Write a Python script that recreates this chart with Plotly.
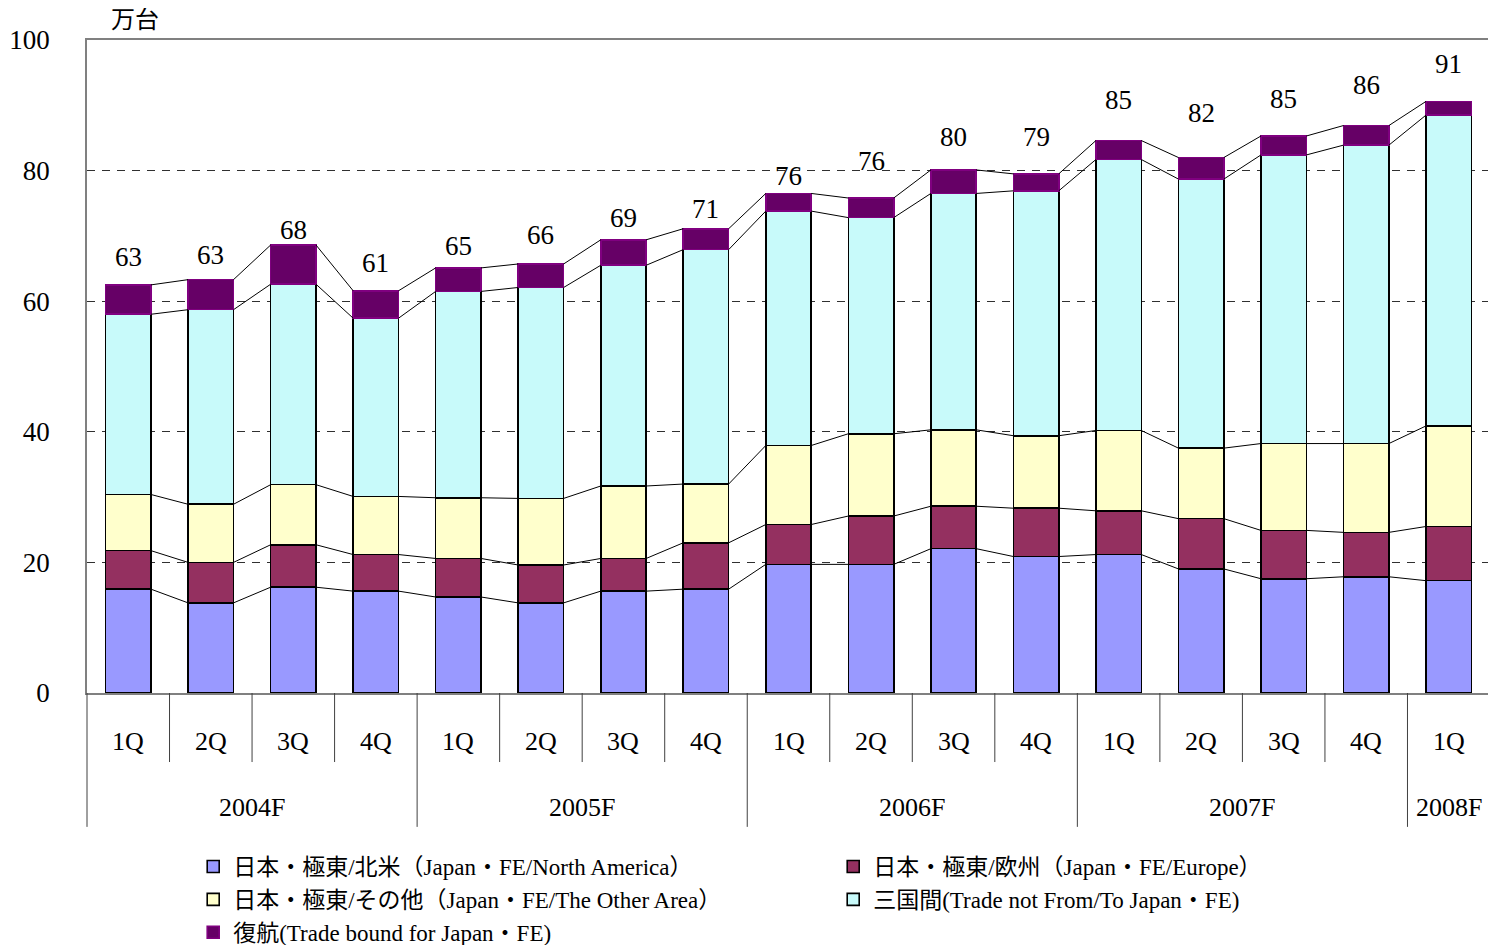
import plotly.graph_objects as go

# ---------------- data ----------------
quarters = ["1Q", "2Q", "3Q", "4Q", "1Q", "2Q", "3Q", "4Q", "1Q", "2Q", "3Q", "4Q",
            "1Q", "2Q", "3Q", "4Q", "1Q"]
years = ["2004F", "2005F", "2006F", "2007F", "2008F"]
year_counts = [4, 4, 4, 4, 1]

north_america = [15.9, 13.8, 16.2, 15.6, 14.7, 13.8, 15.6, 15.9, 19.7, 19.7, 22.1, 20.9,
                 21.2, 19.0, 17.5, 17.8, 17.2]
europe = [5.9, 6.2, 6.5, 5.6, 5.9, 5.8, 5.0, 7.1, 6.1, 7.4, 6.5, 7.4, 6.7, 7.7, 7.4, 6.8, 8.3]
other_area = [8.6, 8.9, 9.2, 8.9, 9.3, 10.2, 11.1, 9.0, 12.1, 12.6, 11.7, 11.1, 12.3, 10.8,
              13.3, 13.6, 15.4]
cross_trade = [27.6, 29.8, 30.7, 27.3, 31.6, 32.3, 33.8, 35.9, 35.9, 33.1, 36.2, 37.5, 41.5,
               41.2, 44.2, 45.7, 47.6]
return_trade = [4.5, 4.6, 6.0, 4.2, 3.6, 3.6, 3.9, 3.2, 2.7, 3.0, 3.6, 2.6, 2.9, 3.3, 2.9,
                3.0, 2.1]
total_labels = ["63", "63", "68", "61", "65", "66", "69", "71", "76", "76", "80", "79",
                "85", "82", "85", "86", "91"]

series_names = [
    "日本・極東/北米（Japan・FE/North America）",
    "日本・極東/欧州（Japan・FE/Europe）",
    "日本・極東/その他（Japan・FE/The Other Area）",
    "三国間(Trade not From/To Japan・FE)",
    "復航(Trade bound for Japan・FE)",
]
unit_label = "万台"

# ---------------- styles ----------------
fill_colors = ["#9999FF", "#943060", "#FFFFCC", "#C8FAFA", "#660066"]
line_colors = ["#000000", "#000000", "#000000", "#000000", "#800080"]
label_lift = [28, 25, 15, 28, 22, 29, 22, 20, 17, 37, 33, 37, 41, 45, 37, 41, 37]
BAR_W = 0.55
SERIF = "Liberation Serif, Times New Roman, Noto Sans CJK JP, serif"

n = len(quarters)
xs = list(range(n))
series = [north_america, europe, other_area, cross_trade, return_trade]

fig = go.Figure()

# stacked bars
for name, vals, fc, lc in zip(series_names, series, fill_colors, line_colors):
    fig.add_trace(go.Bar(
        x=xs, y=vals, name=name, width=BAR_W,
        marker=dict(color=fc, line=dict(color=lc, width=1.6)),
    ))

# series lines connecting segment tops between adjacent bars
cum = []
running = [0.0] * n
for vals in series:
    running = [r + v for r, v in zip(running, vals)]
    cum.append(running[:])

for level in cum:
    lx, ly = [], []
    for i in range(n - 1):
        lx += [i + BAR_W / 2, i + 1 - BAR_W / 2, None]
        ly += [level[i], level[i + 1], None]
    fig.add_trace(go.Scatter(x=lx, y=ly, mode="lines", showlegend=False,
                             hoverinfo="skip", line=dict(color="black", width=1)))

totals = cum[-1]
annotations = []
for i, (t, lab) in enumerate(zip(totals, total_labels)):
    annotations.append(dict(x=i, y=t, xref="x", yref="y", text=lab, showarrow=False,
                            yshift=label_lift[i], font=dict(family=SERIF, size=27, color="black")))

# category axis: quarter labels, year labels and separators
shapes = []
for i, q in enumerate(quarters):
    annotations.append(dict(x=i, y=-0.075, xref="x", yref="paper", text=q, showarrow=False,
                            yanchor="middle", font=dict(family=SERIF, size=26, color="black")))
year_starts = []
start = 0
for yname, cnt in zip(years, year_counts):
    year_starts.append(start)
    annotations.append(dict(x=start + (cnt - 1) / 2, y=-0.176, xref="x", yref="paper",
                            text=yname, showarrow=False, yanchor="middle",
                            font=dict(family=SERIF, size=26, color="black")))
    start += cnt
for j in range(n + 1):
    long_line = (j in year_starts) or j == n
    shapes.append(dict(type="line", xref="paper", yref="paper", x0=j / n, x1=j / n,
                       y0=0, y1=-0.205 if long_line else -0.1057,
                       line=dict(color="#404040", width=1)))

annotations.append(dict(x=0.034, y=1.031, xref="paper", yref="paper", text=unit_label,
                        showarrow=False, yanchor="middle", xanchor="center",
                        font=dict(family=SERIF, size=24, color="black")))

fig.update_layout(
    width=1488, height=937,
    margin=dict(l=79, r=6, t=32, b=252, autoexpand=False),
    barmode="stack",
    plot_bgcolor="white", paper_bgcolor="white",
    font=dict(family=SERIF, color="black"),
    xaxis=dict(range=[-0.5, n - 0.5], showticklabels=False, showgrid=False, zeroline=False,
               showline=True, linecolor="#808080", linewidth=1.5, mirror=True, ticks=""),
    yaxis=dict(range=[0, 100], tickvals=[0, 20, 40, 60, 80, 100], showgrid=True,
               gridcolor="#303030", gridwidth=1, griddash="8px,7px", zeroline=False,
               showline=True, linecolor="#808080", linewidth=1.5, mirror=True, ticks="",
               ticklabelstandoff=30, tickfont=dict(family=SERIF, size=27, color="black")),
    legend=dict(orientation="h", x=0.0757, xanchor="left", y=-0.2328, yanchor="top",
                traceorder="normal", entrywidth=595, entrywidthmode="pixels",
                font=dict(family=SERIF, size=23, color="black"), itemwidth=30,
                bgcolor="rgba(0,0,0,0)", tracegroupgap=0),
    annotations=annotations,
    shapes=shapes,
    showlegend=True,
)

fig.write_html("out.html")
